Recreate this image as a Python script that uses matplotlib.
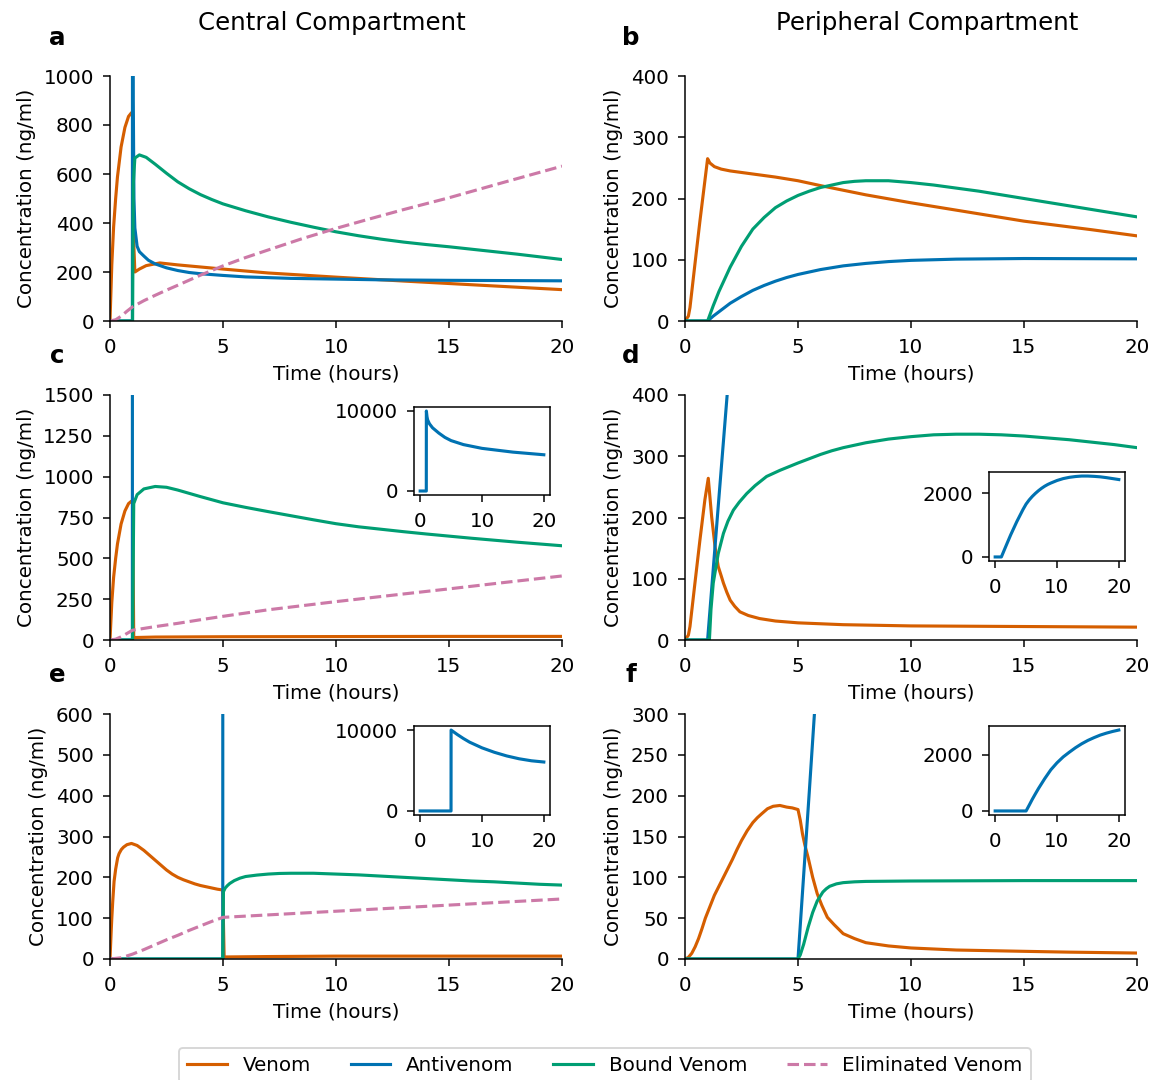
import matplotlib
matplotlib.use('Agg')
import matplotlib.pyplot as plt

plt.rcParams['font.family'] = ['DejaVu Sans']
plt.rcParams['font.size'] = 10.5
plt.rcParams['xtick.major.pad'] = 5.5
plt.rcParams['ytick.major.pad'] = 5

W, H, DPI = 1153, 1080, 136
LW = 1.65

VENOM_C = '#D55E00'
ANTI_C = '#0072B2'
BOUND_C = '#009E73'
ELIM_C = '#CC79A7'

# ---- a: central, antivenom at 1 h ----
a_venom_t = [0, 0.08, 0.16, 0.25, 0.33, 0.49, 0.66, 0.82, 0.95, 1.0, 1.05, 1.1, 1.3, 1.6, 2.2, 3, 5, 7, 10, 13, 15, 20]
a_venom = [0, 230, 384, 500, 588, 710, 790, 835, 850, 845, 320, 200, 212, 226, 237, 229, 212, 196, 179, 163, 153, 128]
a_anti_t = [0, 0.99, 1.0, 1.03, 1.06, 1.1, 1.2, 1.3, 1.5, 1.7, 2, 2.5, 3, 3.5, 4, 5, 6, 7, 8, 10, 12, 15, 20]
a_anti = [0, 0, 2500, 900, 500, 380, 305, 283, 265, 248, 233, 217, 206, 198, 193, 186, 180, 177, 174, 171, 168, 166, 164]
a_bound_t = [0, 0.99, 1.0, 1.03, 1.1, 1.3, 1.6, 2, 2.5, 3, 3.5, 4, 4.5, 5, 6, 7, 8, 9, 10, 11, 12, 13, 14, 15,
             16, 17, 18, 19, 20]
a_bound = [0, 0, 0, 560, 665, 678, 668, 640, 603, 568, 540, 516, 496, 478, 450, 425, 403, 383, 364, 348, 334,
           322, 312, 303, 293, 283, 273, 262, 251]
a_elim_t = [0, 0.25, 0.5, 0.75, 1, 1.5, 2, 2.5, 3, 4, 5, 6, 7, 8.5, 10, 11.5, 13, 15, 17.5, 20]
a_elim = [0, 5, 20, 40, 58, 83, 105, 126, 146, 187, 225, 259, 290, 336, 378, 417, 455, 503, 568, 632]

# ---- b: peripheral, antivenom at 1 h ----
b_venom_t = [0, 0.15, 0.22, 0.44, 0.66, 0.88, 1.0, 1.1, 1.3, 1.6, 2, 3, 4, 5, 6, 8, 10, 12, 15, 18, 20]
b_venom = [0, 8, 22, 93, 163, 229, 265, 258, 252, 248, 245, 240, 235, 229, 221, 206, 193, 181, 163, 149, 139]
b_anti_t = [0, 1.0, 1.25, 1.5, 1.75, 2, 2.5, 3, 3.5, 4, 4.5, 5, 5.5, 6, 7, 8, 9, 10, 11, 12, 15, 20]
b_anti = [0, 0, 8, 15, 22, 29, 40, 50, 58, 65, 71, 76, 80, 84, 90, 94, 97, 99, 100, 101, 102, 101.5]
b_bound_t = [0, 1.0, 1.25, 1.5, 1.75, 2, 2.5, 3, 3.5, 4, 4.5, 5, 5.5, 6, 6.5, 7, 7.5, 8, 9, 10, 11, 12, 13, 14,
             15, 16, 17, 18, 19, 20]
b_bound = [0, 0, 25, 48, 68, 88, 122, 150, 169, 185, 196, 205, 212, 218, 222, 226, 228, 229, 229, 226, 222,
           217, 212, 206, 200, 194, 188, 182, 176, 170]

# ---- c: central, large antivenom dose at 1 h ----
c_venom_t = [0, 0.08, 0.16, 0.25, 0.33, 0.49, 0.66, 0.82, 0.95, 1.0, 1.05, 2, 5, 10, 15, 20]
c_venom = [0, 230, 384, 500, 588, 710, 790, 835, 850, 845, 15, 18, 20, 21, 22, 22]
c_anti_t = [0, 0.99, 1.0, 1.1, 1.2, 1.5, 2, 3, 4, 5, 7, 10, 15, 20]
c_anti = [0, 0, 10000, 9300, 8900, 8400, 7900, 7250, 6700, 6300, 5800, 5330, 4860, 4530]
c_bound_t = [0, 0.99, 1.0, 1.05, 1.2, 1.5, 2, 2.5, 3, 3.5, 4, 4.5, 5, 6, 7, 8, 9, 10, 11, 12, 13, 14, 15, 16,
             17, 18, 19, 20]
c_bound = [0, 0, 0, 835, 890, 925, 940, 935, 918, 898, 878, 859, 840, 812, 786, 761, 736, 712, 693, 678, 663,
           649, 636, 623, 611, 599, 588, 577]
c_elim_t = [0, 0.25, 0.5, 0.75, 1, 2, 3, 4, 5, 7, 10, 13, 15, 17.5, 20]
c_elim = [0, 5, 20, 40, 60, 82, 102, 124, 145, 185, 235, 282, 313, 353, 392]

# ---- d: peripheral, large antivenom dose at 1 h ----
d_venom_t = [0, 0.15, 0.22, 0.44, 0.66, 0.88, 1.03, 1.18, 1.33, 1.47, 1.6, 1.7, 1.85, 2, 2.2, 2.43, 2.8, 3.3,
             4, 5, 7, 10, 15, 20]
d_venom = [0, 8, 22, 93, 163, 229, 264, 201, 152, 120, 105, 93, 78, 65, 55, 46, 40, 35, 31, 28, 25, 23, 22, 21]
d_anti_t = [0, 1.0, 1.5, 2, 2.5, 3, 3.5, 4, 4.5, 5, 5.5, 6, 6.5, 7, 7.5, 8, 8.5, 9, 10, 11, 12, 13, 14, 15, 16,
            17, 18, 19, 20]
d_anti = [0, 0, 232, 462, 690, 900, 1110, 1300, 1490, 1660, 1790, 1900, 1995, 2080, 2155, 2220, 2275, 2320,
          2400, 2460, 2500, 2525, 2540, 2540, 2530, 2515, 2490, 2460, 2430]
d_bound_t = [0, 1.08, 1.15, 1.25, 1.47, 1.7, 1.9, 2.14, 2.4, 2.73, 3.1, 3.61, 4.2, 5, 5.5, 6, 6.5, 7, 7.5, 8, 9,
             10, 11, 12, 13, 14, 15, 16, 17, 18, 19, 20]
d_bound = [0, 0, 50, 93, 141, 174, 194, 212, 225, 239, 252, 267, 277, 289, 296, 303, 309, 314, 318, 322, 328,
           332, 335, 336, 336, 335, 333, 330, 327, 323, 319, 314]

# ---- e: central, antivenom at 5 h ----
e_venom_t = [0, 0.05, 0.08, 0.12, 0.18, 0.25, 0.34, 0.4, 0.5, 0.6, 0.75, 0.95, 1.2, 1.5, 1.75, 2, 2.25, 2.5,
             2.75, 3, 3.25, 3.5, 3.75, 4, 4.25, 4.5, 4.75, 4.99, 5.05, 7, 10, 15, 20]
e_venom = [0, 65, 100, 140, 190, 220, 248, 258, 268, 274, 280, 283, 278, 266, 254, 242, 230, 218, 208, 200, 194,
           189, 184, 180, 177, 174, 171, 169, 5, 6, 7, 7, 7]
e_anti_t = [0, 4.99, 5.0, 6, 7, 8, 10, 12, 14, 16, 18, 20]
e_anti = [0, 0, 10000, 9450, 8950, 8500, 7800, 7250, 6800, 6450, 6200, 6050]
e_bound_t = [0, 4.99, 5.02, 5.1, 5.2, 5.3, 5.5, 5.75, 6, 6.5, 7, 7.5, 8, 9, 10, 11, 12, 13, 14, 15, 16, 17, 18,
             19, 20]
e_bound = [0, 0, 165, 174, 180, 185, 192, 198, 202, 205.5, 208, 209.5, 210, 210, 208, 206, 203, 200, 197, 194,
           191, 189, 186, 183, 181]
e_elim_t = [0, 0.5, 1, 1.5, 2, 2.5, 3, 3.5, 4, 4.5, 5, 7, 10, 15, 20]
e_elim = [0, 3, 12, 23, 35, 47, 58, 70, 81, 92, 102, 108, 117, 132, 147]

# ---- f: peripheral, antivenom at 5 h ----
f_venom_t = [0, 0.15, 0.3, 0.45, 0.6, 0.75, 0.9, 1.1, 1.3, 1.5, 1.7, 1.9, 2.1, 2.3, 2.5, 2.75, 3, 3.2, 3.4, 3.65,
             3.9, 4.2, 4.5, 4.75, 5, 5.1, 5.2, 5.3, 5.45, 5.65, 5.85, 6.05, 6.3, 6.6, 7, 7.5, 8, 9, 10, 12, 15,
             17, 20]
f_venom = [0, 2, 7, 15, 25, 37, 50, 64, 78, 89, 100, 111, 122, 134, 145, 157, 167, 173, 178, 184, 187, 188, 186,
           185, 183, 170, 153, 140, 124, 100, 80, 66, 51, 42, 31, 25, 20, 16, 13.5, 11, 9.4, 8.4, 7.3]
f_anti_t = [0, 5, 5.5, 6, 6.5, 7, 8, 9, 10, 11, 12, 13, 14, 15, 16, 17, 18, 19, 20]
f_anti = [0, 0, 205, 415, 610, 800, 1150, 1470, 1720, 1930, 2100, 2260, 2400, 2520, 2620, 2710, 2780, 2840, 2890]
f_bound_t = [0, 5, 5.1, 5.25, 5.45, 5.55, 5.65, 5.75, 5.85, 6.1, 6.25, 6.4, 6.7, 7, 7.5, 8, 10, 15, 20]
f_bound = [0, 0, 5, 18, 39, 48, 57, 64, 71, 82, 86, 89, 92, 93.5, 94.5, 95, 95.5, 96, 96]

x_ticks = [0, 5, 10, 15, 20]
a_yticks = [0, 200, 400, 600, 800, 1000]
b_yticks = [0, 100, 200, 300, 400]
c_yticks = [0, 250, 500, 750, 1000, 1250, 1500]
d_yticks = [0, 100, 200, 300, 400]
e_yticks = [0, 100, 200, 300, 400, 500, 600]
f_yticks = [0, 50, 100, 150, 200, 250, 300]


def box(l, t, r, b):
    """pixel box -> figure fraction rect"""
    return [l / W, 1 - b / H, (r - l) / W, (b - t) / H]


def panel(rect, yticks, venom, anti, bound, elim=None):
    ax = fig.add_axes(box(*rect))
    ax.plot(venom[0], venom[1], color=VENOM_C, lw=LW, label='Venom')
    ax.plot(anti[0], anti[1], color=ANTI_C, lw=LW, label='Antivenom')
    ax.plot(bound[0], bound[1], color=BOUND_C, lw=LW, label='Bound Venom')
    if elim is not None:
        ax.plot(elim[0], elim[1], color=ELIM_C, lw=LW, ls='--', label='Eliminated Venom')
    ax.set_xlim(0, 20)
    ax.set_ylim(yticks[0], yticks[-1])
    ax.set_xticks(x_ticks)
    ax.set_yticks(yticks)
    ax.spines['top'].set_visible(False)
    ax.spines['right'].set_visible(False)
    ax.set_xlabel('Time (hours)')
    ax.set_ylabel('Concentration (ng/ml)')
    return ax


def inset(rect, t, y, yticks):
    ax = fig.add_axes(box(*rect))
    ax.plot(t, y, color=ANTI_C, lw=LW)
    ax.set_xticks([0, 10, 20])
    ax.set_yticks(yticks)
    return ax


fig = plt.figure(figsize=(W / DPI, H / DPI), dpi=DPI)

ax_a = panel((110, 76, 562, 321), a_yticks, (a_venom_t, a_venom), (a_anti_t, a_anti),
             (a_bound_t, a_bound), (a_elim_t, a_elim))
panel((685, 76, 1137, 321), b_yticks, (b_venom_t, b_venom), (b_anti_t, b_anti), (b_bound_t, b_bound))
panel((110, 395, 562, 640), c_yticks, (c_venom_t, c_venom), (c_anti_t, c_anti),
      (c_bound_t, c_bound), (c_elim_t, c_elim))
panel((685, 395, 1137, 640), d_yticks, (d_venom_t, d_venom), (d_anti_t, d_anti), (d_bound_t, d_bound))
panel((110, 714, 562, 959), e_yticks, (e_venom_t, e_venom), (e_anti_t, e_anti),
      (e_bound_t, e_bound), (e_elim_t, e_elim))
panel((685, 714, 1137, 959), f_yticks, (f_venom_t, f_venom), (f_anti_t, f_anti), (f_bound_t, f_bound))

# insets with the full antivenom curve
inset((414, 407, 550, 495), c_anti_t, c_anti, [0, 10000])
inset((989, 472, 1125, 561), d_anti_t, d_anti, [0, 2000])
inset((414, 726, 550, 815), e_anti_t, e_anti, [0, 10000])
inset((989, 726, 1125, 815), f_anti_t, f_anti, [0, 2000])

# column titles and panel letters
fig.text(332 / W, 1 - 23 / H, 'Central Compartment', ha='center', va='center', fontsize=13)
fig.text(927 / W, 1 - 23 / H, 'Peripheral Compartment', ha='center', va='center', fontsize=13)
for letter, (px, py) in zip('abcdef', [(57, 38), (631, 38), (57, 356), (631, 356), (57, 675), (631, 675)]):
    fig.text(px / W, 1 - py / H, letter, ha='center', va='center', fontsize=13, fontweight='bold')

handles, labels = ax_a.get_legend_handles_labels()
fig.legend(handles, labels, ncol=4, loc='upper left', bbox_to_anchor=(179 / W, 1 - 1048 / H),
           borderaxespad=0)

fig.savefig('out.png', dpi=DPI)
